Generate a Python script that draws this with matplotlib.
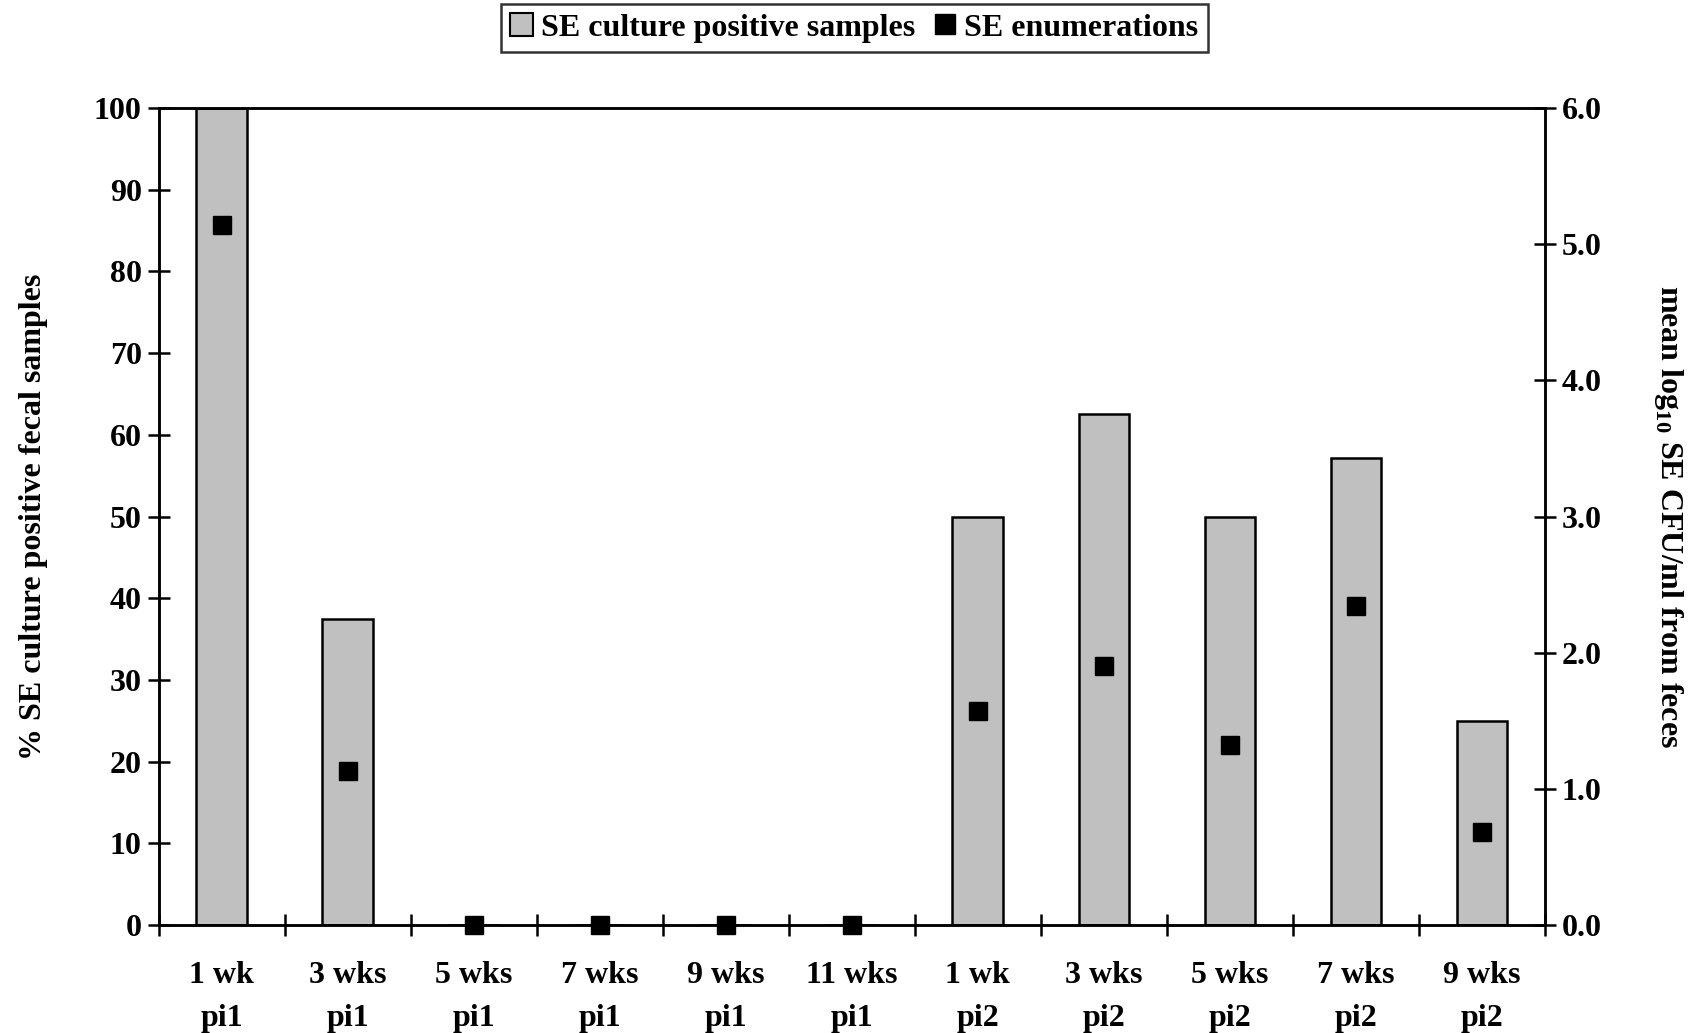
import numpy as np
from matplotlib import pyplot as plt
from matplotlib.patches import Patch
from matplotlib.lines import Line2D

plt.rcParams['font.family'] = ['Liberation Serif', 'DejaVu Serif']
plt.rcParams['font.weight'] = 'bold'
plt.rcParams['axes.labelweight'] = 'bold'
plt.rcParams['mathtext.fontset'] = 'custom'
plt.rcParams['mathtext.rm'] = 'Liberation Serif:bold'
plt.rcParams['mathtext.bf'] = 'Liberation Serif:bold'

# data
labels = ['1 wk\npi1', '3 wks\npi1', '5 wks\npi1', '7 wks\npi1', '9 wks\npi1', '11 wks\npi1',
          '1 wk\npi2', '3 wks\npi2', '5 wks\npi2', '7 wks\npi2', '9 wks\npi2']
pct_positive = [100, 37.5, 0, 0, 0, 0, 50, 62.5, 50, 57.1, 25]
log_cfu = [5.14, 1.13, 0, 0, 0, 0, 1.57, 1.90, 1.32, 2.34, 0.68]

x = np.arange(len(labels))
fs = 23

fig = plt.figure(figsize=(16.92, 10.33), dpi=100, facecolor='w')
ax = fig.add_axes([0.0937, 0.1045, 0.8193, 0.791])

ax.bar(x, pct_positive, width=0.4, color='#c0c0c0', edgecolor='k', linewidth=1.8, zorder=2)
ax.set_xlim(-0.5, len(labels) - 0.5)
ax.set_ylim(0, 100)
ax.set_yticks(np.arange(0, 101, 10))
ax.set_xticks(np.arange(-0.5, len(labels), 1.0))
ax.set_xticklabels([])
ax.set_xticks(x, minor=True)
ax.set_xticklabels(labels, minor=True, fontsize=fs, fontweight='bold', linespacing=1.65)
ax.tick_params(axis='x', which='minor', length=0, pad=26)
ax.tick_params(axis='both', which='major', direction='inout', length=16, width=1.8, labelsize=fs)
ax.tick_params(axis='y', pad=4)
ax.set_ylabel('% SE culture positive fecal samples', fontsize=fs, labelpad=33)
for s in ax.spines.values():
    s.set_linewidth(1.8)

ax2 = ax.twinx()
ax2.plot(x, log_cfu, linestyle='none', marker='s', markersize=13.5, color='k', clip_on=False, zorder=5)
ax2.set_ylim(0, 6)
ax2.set_yticks(np.arange(0, 6.1, 1.0))
ax2.set_yticklabels(['%.1f' % v for v in np.arange(0, 6.1, 1.0)])
ax2.tick_params(axis='y', direction='inout', length=16, width=1.8, labelsize=fs, pad=4)
ax2.set_ylabel('mean log$_{\\mathbf{10}}$ SE CFU/ml from feces', fontsize=fs, rotation=270, labelpad=60)
for s in ax2.spines.values():
    s.set_linewidth(1.8)

handles = [Patch(facecolor='#c0c0c0', edgecolor='k', linewidth=1.5),
           Line2D([], [], linestyle='none', marker='s', markersize=15, color='k')]
leg = fig.legend(handles, ['SE culture positive samples', 'SE enumerations'],
                 loc='center', bbox_to_anchor=(0.505, 0.973), ncol=2, fontsize=fs,
                 frameon=True, fancybox=False, edgecolor='k', handlelength=0.7,
                 handletextpad=0.25, columnspacing=0.6, borderpad=0.3)
leg.get_frame().set_linewidth(1.8)

plt.savefig('out.png', dpi=100)
